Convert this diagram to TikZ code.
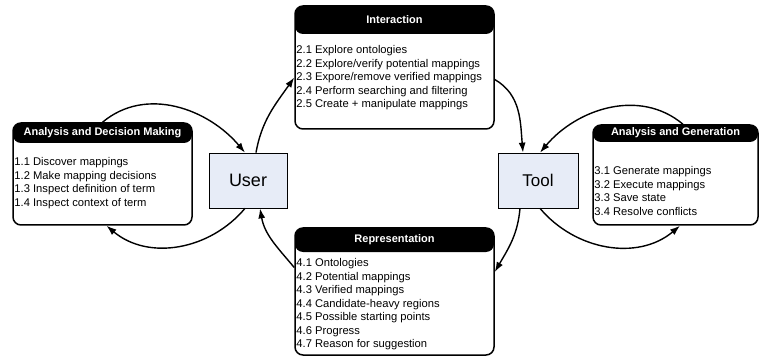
\documentclass[tikz,border=0pt]{standalone}
\usepackage{fontspec}
\setmainfont{Liberation Sans}
\usetikzlibrary{arrows.meta}
\definecolor{actorblue}{RGB}{231,236,247}
\tikzset{
	panel/.style={draw, line width=1.5pt, rounded corners=8pt, fill=white, inner sep=0pt},
	paneltitle/.style={text=white, inner sep=0pt, font=\fontsize{11}{13}\selectfont\bfseries},
	panelitems/.style={align=left, inner sep=0pt, font=\fontsize{11.2}{13.5}\selectfont},
	actor/.style={draw, line width=0.7pt, fill=actorblue, inner sep=0pt, minimum width=78pt, minimum height=55pt},
	flow/.style={line width=1.4pt, -{Latex[length=10pt,width=7pt]}}
}
% panel: (name)(cx,cy)(width:height:header:drop){title}{items}
\def\taskpanel(#1)(#2,#3)(#4:#5:#6:#7)#8#9{
	\node[panel, minimum width=#4pt, minimum height=#5pt,
		path picture={\fill[black] (path picture bounding box.north west) rectangle ([yshift=-#6pt]path picture bounding box.north east);}]
		(#1) at (#2,#3) {};
	\node[paneltitle] (#1-title) at ([yshift=-#6pt/2]#1.north) {#8};
	\node[panelitems, anchor=north west] (#1-items) at ([xshift=2pt,yshift=-#7pt]#1.north west) {#9};
}

\begin{document}
\begin{tikzpicture}[x=1pt, y=1pt]
		%%%%% START %%%%%
		\useasboundingbox (0,0) rectangle (759,356);
		
		\node[actor, font=\fontsize{18}{20}\selectfont] (user) at (248,175.5) {User};
		\node[actor, font=\fontsize{17}{20}\selectfont, minimum width=80pt] (tool) at (538,175.5) {Tool};
		
		\taskpanel(adm)(102.5,182)(179:102:20:35){Analysis and Decision Making}{1.1 Discover mappings\\1.2 Make mapping decisions\\1.3 Inspect definition of term\\1.4 Inspect context of term}
		\taskpanel(inter)(394.5,288.5)(199:123:28:40){Interaction}{2.1 Explore ontologies\\2.2 Explore/verify potential mappings\\2.3 Expore/remove verified mappings\\2.4 Perform searching and filtering\\2.5 Create + manipulate mappings}
		\taskpanel(gen)(675.5,181)(165:100:17:42){Analysis and Generation}{3.1 Generate mappings\\3.2 Execute mappings\\3.3 Save state\\3.4 Resolve conflicts}
		\taskpanel(repr)(394.5,64.5)(199:127:24:31){Representation}{4.1 Ontologies\\4.2 Potential mappings\\4.3 Verified mappings\\4.4 Candidate-heavy regions\\4.5 Possible starting points\\4.6 Progress\\4.7 Reason for suggestion}
		
		% user side
		\draw[flow] (adm.north) to[out=40, in=130] ([xshift=-3pt]user.north);
		\draw[flow] ([xshift=8pt]user.north) to[out=80, in=235] ([yshift=-10pt]inter.west);
		\draw[flow] ([xshift=-3pt]user.south) to[out=-130, in=-40] ([xshift=4pt]adm.south);
		\draw[flow] ([yshift=24pt]repr.west) to[out=130, in=-80] ([xshift=12pt]user.south);
		
		% tool side
		\draw[flow] ([yshift=-12pt]inter.east) to[out=-30, in=95] ([xshift=-15pt]tool.north);
		\draw[flow] ([xshift=7.5pt]gen.north) to[out=140, in=50] ([xshift=2pt]tool.north);
		\draw[flow] ([xshift=2pt]tool.south) to[out=-50, in=-140] ([xshift=4.5pt]gen.south);
		\draw[flow] ([xshift=-18pt]tool.south) to[out=-95, in=60] ([yshift=19.5pt]repr.east);
		
		%%%%% END %%%%%
	\end{tikzpicture}
\end{document}
